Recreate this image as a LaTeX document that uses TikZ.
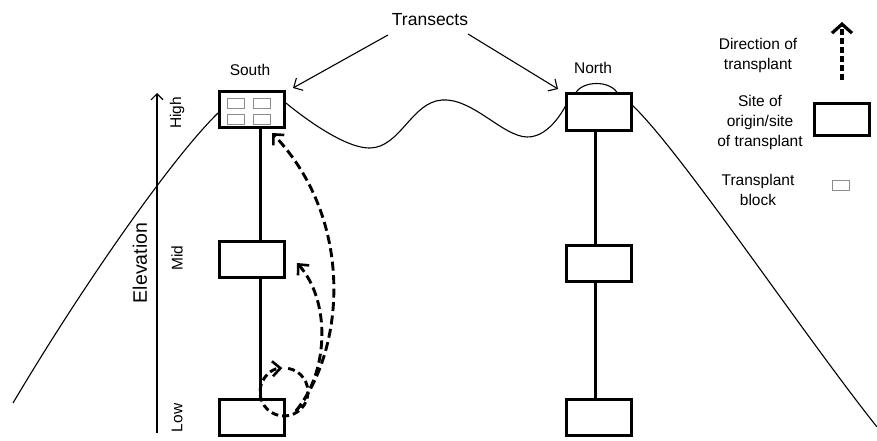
\documentclass[tikz,border=0pt]{standalone}
\usepackage{fontspec}
\setmainfont{Liberation Sans}
\usetikzlibrary{arrows.meta}
\begin{document}
\begin{tikzpicture}[x=1pt,y=-1pt,
  site/.style={draw, line width=3pt, minimum width=65pt, minimum height=36pt, inner sep=0pt, fill=white},
  tblock/.style={draw=black!45, line width=0.8pt, minimum width=17pt, minimum height=10pt, inner sep=0pt, fill=white},
  lbl/.style={font=\fontsize{15.5}{20}\selectfont, align=center, inner sep=0pt},
  stemline/.style={line width=3pt},
  hill/.style={line width=1.1pt},
  transfer/.style={line width=2.9pt, dash pattern=on 9pt off 4.5pt, -{Straight Barb[length=8pt,width=15pt,line width=2.6pt]}},
  pointer/.style={line width=1.1pt, -{Straight Barb[length=7pt,width=14pt,line width=1.1pt]}}
]
\useasboundingbox (0,0) rectangle (877,441);

% mountain profile
\draw[hill] (13,403) .. controls (80,290) and (170,160) .. (218,113);
\draw[hill] plot[smooth, tension=0.7] coordinates {(286,103) (370,148) (442,100) (527,137) (567,103)};
\draw[hill] (632,105) .. controls (680,150) and (800,330) .. (877,427);
\draw[hill] (575,94) .. controls (582,80) and (611,80) .. (618,94);

% south transect
\node[site] (sH) at (252,109.5) {};
\node[site] (sM) at (251.5,259) {};
\node[site] (sL) at (251.5,417.5) {};
\draw[stemline] ([xshift=8pt]sH.south) -- ([xshift=8.5pt]sM.north);
\draw[stemline] ([xshift=8.5pt]sM.south) -- ([xshift=8.5pt]sL.north);
\node[tblock] (b1) at (236,103.5) {};
\node[tblock] (b2) at (262,103.5) {};
\node[tblock] (b3) at (236,119) {};
\node[tblock] (b4) at (262,119) {};

% north transect
\node[site] (nH) at (599,112) {};
\node[site] (nM) at (599,263) {};
\node[site] (nL) at (599,417.5) {};
\draw[stemline] ([xshift=-4pt]nH.south) -- ([xshift=-4pt]nM.north);
\draw[stemline] ([xshift=-4pt]nM.south) -- ([xshift=-4pt]nL.north);

% labels
\node[lbl] (south) at (250,70) {South};
\node[lbl] (north) at (593,68) {North};
\node[lbl, font=\fontsize{17.5}{20}\selectfont] (tr) at (430,20) {Transects};
\coordinate (trS) at (293,88);
\coordinate (trN) at (558,89);
\draw[pointer] ([shift={(-42,15)}]tr.center) -- (trS);
\draw[pointer] ([shift={(38,14)}]tr.center) -- (trN);

% elevation axis
\coordinate (eBot) at (157,433);
\coordinate (eTop) at (157,93);
\draw[line width=1.1pt, -{Straight Barb[length=6pt,width=12pt,line width=1.1pt]}] (eBot) -- (eTop);
\node[lbl, font=\fontsize{19.5}{22}\selectfont, rotate=90] (elev) at (140,263) {Elevation};
\node[lbl, rotate=90] (hi) at (177,113) {High};
\node[lbl, rotate=90] (mid) at (177,258) {Mid};
\node[lbl, rotate=90] (low) at (177,418) {Low};

% transplant directions
\coordinate (orig) at (296,411);
\coordinate (tipH) at (272,133);
\coordinate (tipM) at (297,263);
\coordinate (cc) at (284,392);
\draw[transfer] (orig) .. controls (345,350) and (355,220) .. (tipH);
\draw[transfer] (orig) .. controls (330,370) and (330,300) .. (tipM);
\draw[transfer, dash pattern=on 7pt off 4pt] ([shift={(-80:24)}]cc) arc[start angle=-80, end angle=266, radius=24];

% legend
\node[lbl] (lg1) at (758,55) {Direction of\\transplant};
\coordinate (laB) at (842,80);
\coordinate (laT) at (842,22);
\draw[line width=4pt, dash pattern=on 6pt off 3pt, -{Straight Barb[length=9pt,width=20pt,line width=3.2pt]}] (laB) -- (laT);
\node[lbl] (lg2) at (760,122) {Site of\\origin/site\\of transplant};
\node[draw, line width=3pt, minimum width=55pt, minimum height=31pt, inner sep=0pt] (lgbox) at (841.5,119.5) {};
\node[lbl] (lg3) at (758,190) {Transplant\\block};
\node[tblock] (lgblock) at (841,185) {};
\end{tikzpicture}
\end{document}
